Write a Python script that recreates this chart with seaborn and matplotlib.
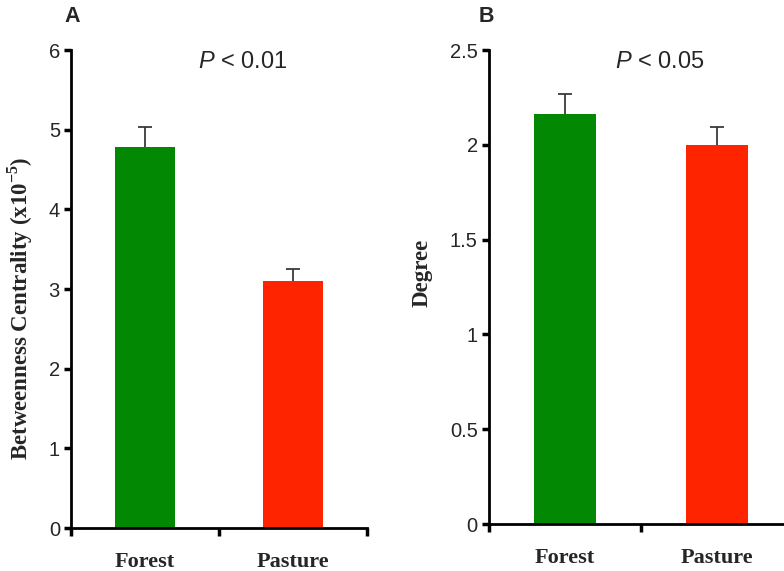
import numpy as np
import seaborn as sns
import matplotlib.pyplot as plt
from matplotlib.ticker import FormatStrFormatter

# data
habitats = ['Forest', 'Pasture']
bar_colors = ['#038803', '#ff2400']
betweenness = [4.78, 3.10]       # x10^-5
betweenness_err = [0.25, 0.15]
degree = [2.165, 2.00]
degree_err = [0.105, 0.095]

sns.set_style('white')
plt.rcParams['font.family'] = ['Liberation Sans', 'DejaVu Sans']
plt.rcParams['mathtext.fontset'] = 'custom'
plt.rcParams['mathtext.rm'] = 'Liberation Serif:bold'
plt.rcParams['mathtext.it'] = 'Liberation Sans:italic'

fig = plt.figure(figsize=(7.84, 5.71), dpi=100)
ax_a = fig.add_axes([0.0906, 0.0753, 0.3776, 0.8371])
ax_b = fig.add_axes([0.6237, 0.0823, 0.3878, 0.8301])


def draw_panel(ax, vals, errs, ymax, ystep, ylabel, label_xy):
    sns.barplot(x=habitats, y=vals, hue=habitats, palette=bar_colors,
                width=0.405, saturation=1, legend=False, ax=ax,
                edgecolor='none')
    # upper-only error bars
    xs = np.arange(len(vals))
    tops = np.array(vals) + np.array(errs)
    ax.vlines(xs, vals, tops, color='#3a3a3a', lw=1.3)
    ax.hlines(tops, xs - 0.045, xs + 0.045, color='#3a3a3a', lw=1.3)
    ax.set_xlim(-0.5, 1.5)
    ax.set_ylim(0, ymax)
    ax.set_yticks(np.arange(0, ymax + ystep / 2, ystep))
    ax.yaxis.set_major_formatter(FormatStrFormatter('%g'))
    ax.set_xticks([0, 1])
    ax.set_xticklabels(habitats, family='Liberation Serif', fontweight='bold',
                       fontsize=16)
    ax.set_xticks([-0.5, 0.5, 1.5], minor=True)
    ax.tick_params(axis='x', which='major', length=0, pad=17.5, bottom=True)
    ax.tick_params(axis='x', which='minor', length=6, width=2.5,
                   direction='out', color='black', bottom=True)
    ax.tick_params(axis='y', length=5, width=2.5, direction='out', left=True,
                   color='black', labelsize=14.5, pad=3)
    for s in ['top', 'right']:
        ax.spines[s].set_visible(False)
    for s in ['left', 'bottom']:
        ax.spines[s].set_linewidth(2)
        ax.spines[s].set_color('black')
    ax.set_xlabel('')
    ax.set_ylabel(ylabel, family='Liberation Serif', fontweight='bold',
                  fontsize=16.5)
    ax.yaxis.set_label_coords(*label_xy)


draw_panel(ax_a, betweenness, betweenness_err, 6, 1,
           'Betweenness Centrality (x10$^{\\mathrm{-5}}$)', (-0.122, 0.46))
draw_panel(ax_b, degree, degree_err, 2.5, 0.5, 'Degree', (-0.184, 0.53))

fig.text(72 / 784, 1 - 17 / 571, 'A', fontsize=15.5, fontweight='bold',
         ha='center', va='center')
fig.text(486 / 784, 1 - 17 / 571, 'B', fontsize=15.5, fontweight='bold',
         ha='center', va='center')
fig.text(243 / 784, 1 - 62 / 571, '$P$ < 0.01', fontsize=17,
         ha='center', va='center')
fig.text(660 / 784, 1 - 62 / 571, '$P$ < 0.05', fontsize=17,
         ha='center', va='center')

plt.savefig('out.png', dpi=100)
